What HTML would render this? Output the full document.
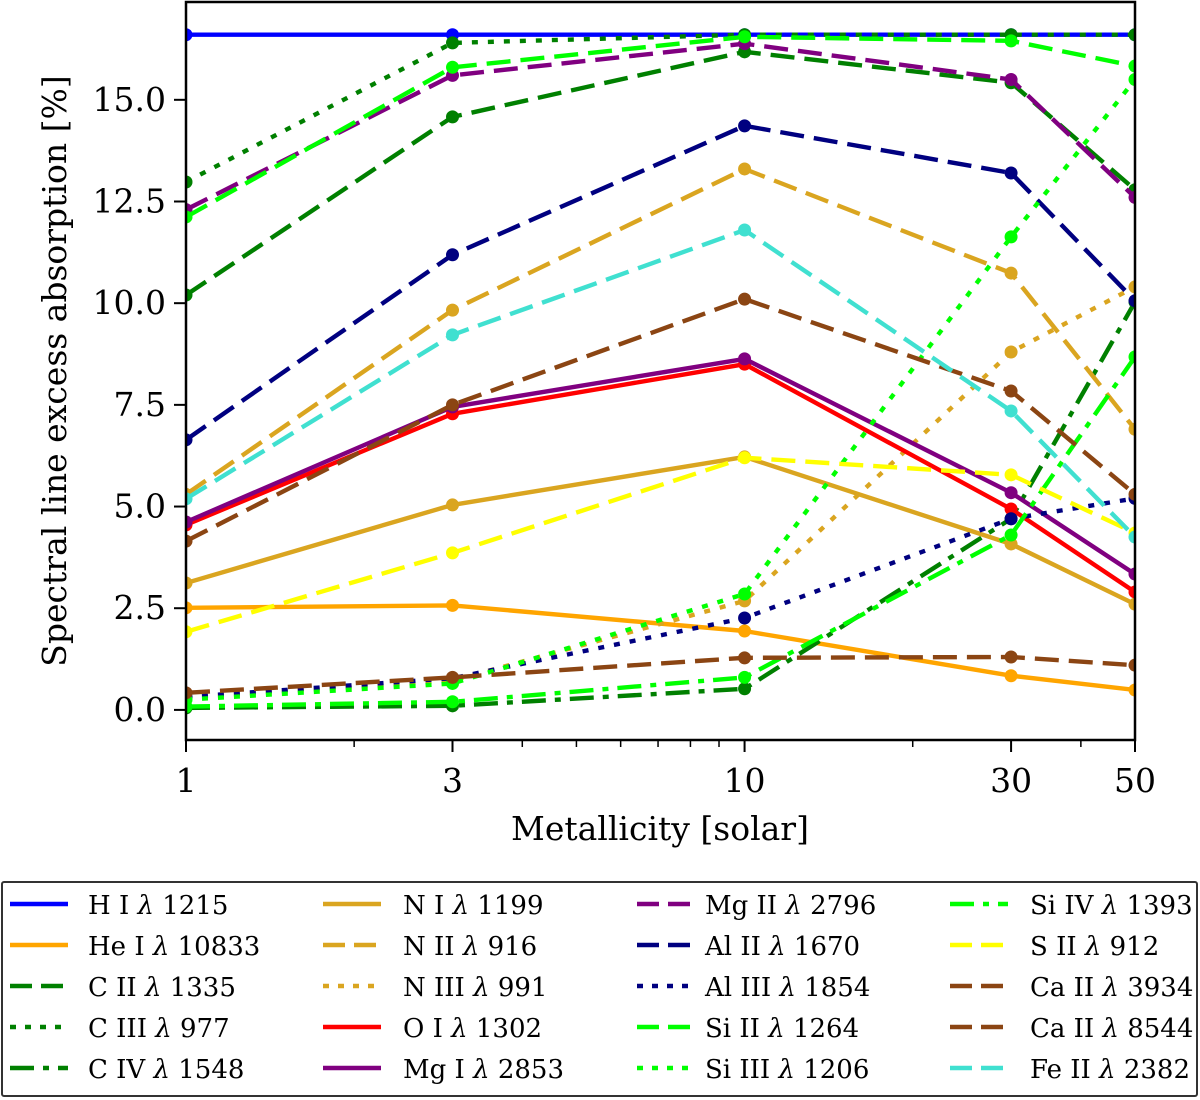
<!DOCTYPE html>
<html><head><meta charset="utf-8">
<style>
html,body{margin:0;padding:0;background:#fff;}
svg{display:block;font-family:"DejaVu Serif","Liberation Serif",serif;}
</style></head>
<body>
<svg id="chart" width="1200" height="1100" viewBox="0 0 1200 1100" xmlns="http://www.w3.org/2000/svg">
<g id="plot"></g>
<g id="axes"></g>
<g id="legend"></g>
</svg>
<script>
const metallicity = [1, 3, 10, 30, 50];
const xTicks = [1, 3, 10, 30, 50];
const xMinor = [2, 4, 5, 6, 7, 8, 9, 20, 40];
const yTicks = [0, 2.5, 5, 7.5, 10, 12.5, 15];
const yTickLabels = ["0.0", "2.5", "5.0", "7.5", "10.0", "12.5", "15.0"];
const seriesNames = ["H I λ 1215","He I λ 10833","C II λ 1335","C III λ 977","C IV λ 1548","N I λ 1199","N II λ 916","N III λ 991","O I λ 1302","Mg I λ 2853","Mg II λ 2796","Al II λ 1670","Al III λ 1854","Si II λ 1264","Si III λ 1206","Si IV λ 1393","S II λ 912","Ca II λ 3934","Ca II λ 8544","Fe II λ 2382"];
const valHI    = [16.6, 16.6, 16.6, 16.6, 16.6];
const valHeI   = [2.51, 2.57, 1.94, 0.84, 0.49];
const valCII   = [10.2, 14.58, 16.18, 15.42, 12.79];
const valCIII  = [12.98, 16.4, 16.6, 16.6, 16.6];
const valCIV   = [0.05, 0.1, 0.52, 4.7, 10.03];
const valNI    = [3.12, 5.04, 6.22, 4.08, 2.6];
const valNII   = [5.3, 9.83, 13.3, 10.74, 6.9];
const valNIII  = [0.3, 0.72, 2.68, 8.8, 10.4];
const valOI    = [4.55, 7.28, 8.5, 4.94, 2.9];
const valMgI   = [4.62, 7.45, 8.63, 5.34, 3.34];
const valMgII  = [12.3, 15.6, 16.38, 15.5, 12.6];
const valAlII  = [6.64, 11.19, 14.36, 13.2, 10.06];
const valAlIII = [0.32, 0.78, 2.26, 4.7, 5.2];
const valSiII  = [12.12, 15.8, 16.55, 16.45, 15.83];
const valSiIII = [0.25, 0.65, 2.85, 11.63, 15.5];
const valSiIV  = [0.08, 0.2, 0.8, 4.3, 8.68];
const valSII   = [1.92, 3.86, 6.2, 5.78, 4.35];
const valCaII3934 = [4.15, 7.5, 10.1, 7.84, 5.3];
const valCaII8544 = [0.42, 0.8, 1.28, 1.3, 1.1];
const valFeII  = [5.19, 9.22, 11.8, 7.35, 4.25];

const seriesValues = [valHI,valHeI,valCII,valCIII,valCIV,valNI,valNII,valNIII,valOI,valMgI,valMgII,valAlII,valAlIII,valSiII,valSiIII,valSiIV,valSII,valCaII3934,valCaII8544,valFeII];
const colors = ["#0000ff","#ffa500","#008000","#008000","#008000","#daa520","#daa520","#daa520","#ff0000","#800080","#800080","#000080","#000080","#00ff00","#00ff00","#00ff00","#ffff00","#8b4513","#8b4513","#40e0d0"];
const styles = ["solid","solid","dashed","dotted","dashdot","solid","dashed","dotted","solid","solid","dashed","dashed","dotted","dashed","dotted","dashdot","dashed","dashed","dashed","dashed"];

const X0=186, X1=1135, Y0=2, Y1=740;
const xMin=1, xMax=50, yMin=-0.74, yMax=17.405;
function xs(v){return X0+(Math.log10(v)-Math.log10(xMin))/(Math.log10(xMax)-Math.log10(xMin))*(X1-X0);}
function ys(v){return Y1-(v-yMin)/(yMax-yMin)*(Y1-Y0);}
const dashMap={solid:null,dashed:"24 10",dotted:"6 10",dashdot:"24 9 6 9"};
const NS="http://www.w3.org/2000/svg";
function mk(tag,attrs,parent){const e=document.createElementNS(NS,tag);for(const k in attrs)e.setAttribute(k,attrs[k]);parent.appendChild(e);return e;}

const plot=document.getElementById('plot');
const defs=mk('defs',{},plot);
const cp=mk('clipPath',{id:'clip'},defs);
mk('rect',{x:X0,y:Y0,width:X1-X0,height:Y1-Y0},cp);
const inner=mk('g',{'clip-path':'url(#clip)'},plot);

seriesValues.forEach((vals,i)=>{
  const g=mk('g',{},inner);
  
  
  const pts=vals.map((v,j)=>xs(metallicity[j]).toFixed(1)+','+ys(v).toFixed(1)).join(' ');
  const a={points:pts,fill:'none',stroke:colors[i],'stroke-width':4.4,'stroke-linejoin':'round'};
  if(dashMap[styles[i]])a['stroke-dasharray']=dashMap[styles[i]];
  const pl=mk('polyline',a,g);
  
  
  vals.forEach((v,j)=>{
    const c=mk('circle',{cx:xs(metallicity[j]),cy:ys(v),r:6.5,fill:colors[i]},g);
    
    
  });
});

const axes=document.getElementById('axes');
const frame=mk('rect',{x:X0,y:Y0,width:X1-X0,height:Y1-Y0,fill:'none',stroke:'#000','stroke-width':2.5},axes);


xTicks.forEach(t=>{
  const x=xs(t);
  const tk=mk('line',{x1:x,y1:Y1,x2:x,y2:Y1+12,stroke:'#000','stroke-width':2},axes);
  
  
  const tx=mk('text',{x:x,y:Y1+52,'text-anchor':'middle','font-size':33},axes);
  tx.textContent=t;
  
  
});
xMinor.forEach(t=>{
  const x=xs(t);
  const tk=mk('line',{x1:x,y1:Y1,x2:x,y2:Y1+7,stroke:'#000','stroke-width':1.5},axes);
  
  
});
yTicks.forEach((t,i)=>{
  const y=ys(t);
  const tk=mk('line',{x1:X0-12,y1:y,x2:X0,y2:y,stroke:'#000','stroke-width':2},axes);
  
  
  const tx=mk('text',{x:X0-20,y:y+11,'text-anchor':'end','font-size':33},axes);
  tx.textContent=yTickLabels[i];
  
  
});
const xl=mk('text',{x:660,y:840,'text-anchor':'middle','font-size':33},axes);
xl.textContent='Metallicity [solar]';


const yl=mk('text',{x:0,y:0,'text-anchor':'middle','font-size':33,transform:'translate(66,371) rotate(-90)'},axes);
yl.textContent='Spectral line excess absorption [%]';



const leg=document.getElementById('legend');
const box=mk('rect',{x:2,y:882,width:1195,height:214,fill:'#fff',stroke:'#333','stroke-width':2,rx:2},leg);


const colLine=[10,323,637,950];
const colText=[88,403,705,1030];
const rowY=[904,945,986,1027,1068];
const legDash={solid:null,dashed:"22 9",dotted:"6 9",dashdot:"24 9 6 9"};
seriesNames.forEach((n,i)=>{
  const c=Math.floor(i/5), r=i%5;
  const g=mk('g',{},leg);
  
  
  const a={x1:colLine[c],y1:rowY[r],x2:colLine[c]+58,y2:rowY[r],stroke:colors[i],'stroke-width':4.4};
  if(legDash[styles[i]])a['stroke-dasharray']=legDash[styles[i]];
  const ln=mk('line',a,g);
  
  
  const t=mk('text',{x:colText[c],y:rowY[r]+10,'font-size':26},g);
  const parts=n.split('λ');
  t.appendChild(document.createTextNode(parts[0]));
  const ts=mk('tspan',{'font-style':'italic'},t);
  ts.textContent='λ';
  t.appendChild(document.createTextNode(parts[1]));
  
  
});
</script>
</body></html>
